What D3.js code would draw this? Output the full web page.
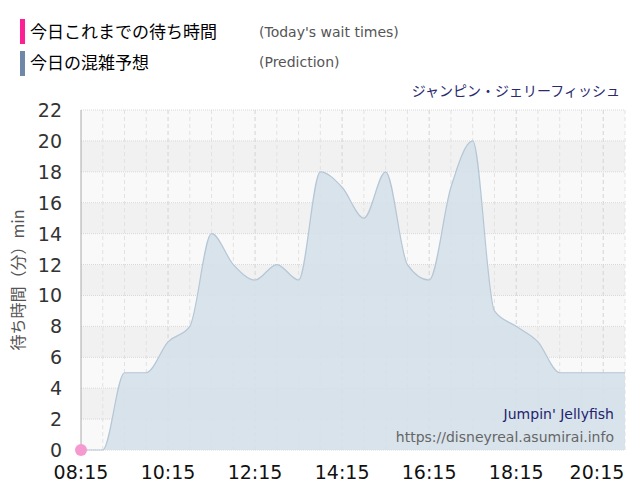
<!DOCTYPE html>
<html><head><meta charset="utf-8">
<script src="https://cdn.jsdelivr.net/npm/d3@7"></script>
<style>body{margin:0;background:#fff;font-family:"Noto Sans CJK JP","DejaVu Sans",sans-serif;}</style>
</head><body><svg></svg>
<script>
var times = ["08:15","08:45","09:15","09:45","10:15","10:45","11:15","11:45","12:15","12:45","13:15","13:45","14:15","14:45","15:15","15:45","16:15","16:45","17:15","17:45","18:15","18:45","19:15","19:45","20:15","20:45"];
var prediction = [0,0,5,5,7,8,14,12,11,12,11,18,17,15,18,12,11,17,20,9,8,7,5,5,5,5];
var today = [{t:"08:15",v:0}];
var xTicks = ["08:15","10:15","12:15","14:15","16:15","18:15","20:15"];
var yTicks = [0,2,4,6,8,10,12,14,16,18,20,22];

var parse = function(s){var p=s.split(":");return +p[0]+p[1]/60;};

var svg = d3.select("svg").attr("width",640).attr("height",500);
var margins = {left:81,right:15,top:110,bottom:50};

var xScale = d3.scaleLinear().domain([parse("08:15"),parse("20:45")]).range([81,625]);
var yScale = d3.scaleLinear().domain([0,22]).range([450,110]);

// bands
for (var i=0;i<11;i++)
{
  svg.append("rect").attr("x",81).attr("width",544)
     .attr("y",yScale(i*2+2)).attr("height",yScale(0)-yScale(2))
     .attr("fill", i%2==0 ? "#f9f9f9" : "#f1f1f1");
}
// vertical grid every 30 min
for (var h=parse("08:45");h<=parse("20:45")+0.01;h+=0.5)
{
  svg.append("line").attr("x1",xScale(h)).attr("x2",xScale(h))
     .attr("y1",110).attr("y2",450)
     .attr("stroke", (Math.round((h-8.25)*2)%4==0) ? "#d4d4d4" : "#e2e2e2")
     .attr("stroke-dasharray","4,3");
}
yTicks.forEach(function(d)
{
  svg.append("line").attr("x1",81).attr("x2",625).attr("y1",yScale(d)).attr("y2",yScale(d))
     .attr("stroke","#d8d8d8").attr("stroke-dasharray","1,1");
  svg.append("text").attr("x",62).attr("y",yScale(d)+7).attr("text-anchor","end")
     .attr("font-size",19).attr("fill","#333").attr("font-family","DejaVu Sans").text(d);
});
svg.append("line").attr("x1",81).attr("x2",81).attr("y1",110).attr("y2",450).attr("stroke","#aaa");

var area = d3.area().curve(d3.curveMonotoneX)
  .x(function(d,i){return xScale(parse(times[i]));})
  .y0(yScale(0)).y1(function(d){return yScale(d);});
var line = d3.line().curve(d3.curveMonotoneX)
  .x(function(d,i){return xScale(parse(times[i]));})
  .y(function(d){return yScale(d);});
svg.append("path").datum(prediction).attr("d",area).attr("fill","#d4e0ea").attr("opacity",0.9);
svg.append("path").datum(prediction).attr("d",line).attr("fill","none").attr("stroke","#b5c6d5").attr("stroke-width",1.2);

svg.selectAll(".today").data(today).enter().append("circle")
   .attr("cx",function(d){return xScale(parse(d.t));}).attr("cy",function(d){return yScale(d.v);})
   .attr("r",6).attr("fill","#f59ad0");

xTicks.forEach(function(t)
{
  svg.append("text").attr("x",Math.min(xScale(parse(t)),597)).attr("y",479).attr("text-anchor","middle")
     .attr("font-size",19).attr("fill","#111").attr("font-family","DejaVu Sans").text(t);
});

// legend
svg.append("rect").attr("x",20).attr("y",19).attr("width",5).attr("height",25).attr("fill","#ff1f95");
svg.append("rect").attr("x",20).attr("y",51).attr("width",5).attr("height",25).attr("fill","#6f88a8");
svg.append("text").attr("x",30).attr("y",38).attr("font-size",17).text("今日これまでの待ち時間");
svg.append("text").attr("x",30).attr("y",69).attr("font-size",17).text("今日の混雑予想");
svg.append("text").attr("x",259).attr("y",37).attr("font-size",14).attr("fill","#555").attr("font-family","DejaVu Sans").text("(Today's wait times)");
svg.append("text").attr("x",259).attr("y",67).attr("font-size",14).attr("fill","#555").attr("font-family","DejaVu Sans").text("(Prediction)");
svg.append("text").attr("x",620).attr("y",96).attr("text-anchor","end").attr("font-size",14).attr("fill","#2a2a70").text("ジャンピン・ジェリーフィッシュ");

svg.append("text").attr("transform","translate(24,280) rotate(-90)").attr("text-anchor","middle")
   .attr("font-size",16).attr("fill","#555").text("待ち時間（分）min");

svg.append("text").attr("x",614).attr("y",419).attr("text-anchor","end").attr("font-size",14).attr("fill","#23236e").attr("font-family","DejaVu Sans").text("Jumpin' Jellyfish");
svg.append("text").attr("x",614).attr("y",442).attr("text-anchor","end").attr("font-size",14).attr("fill","#666").attr("font-family","DejaVu Sans").text("https://disneyreal.asumirai.info");
</script></body></html>
